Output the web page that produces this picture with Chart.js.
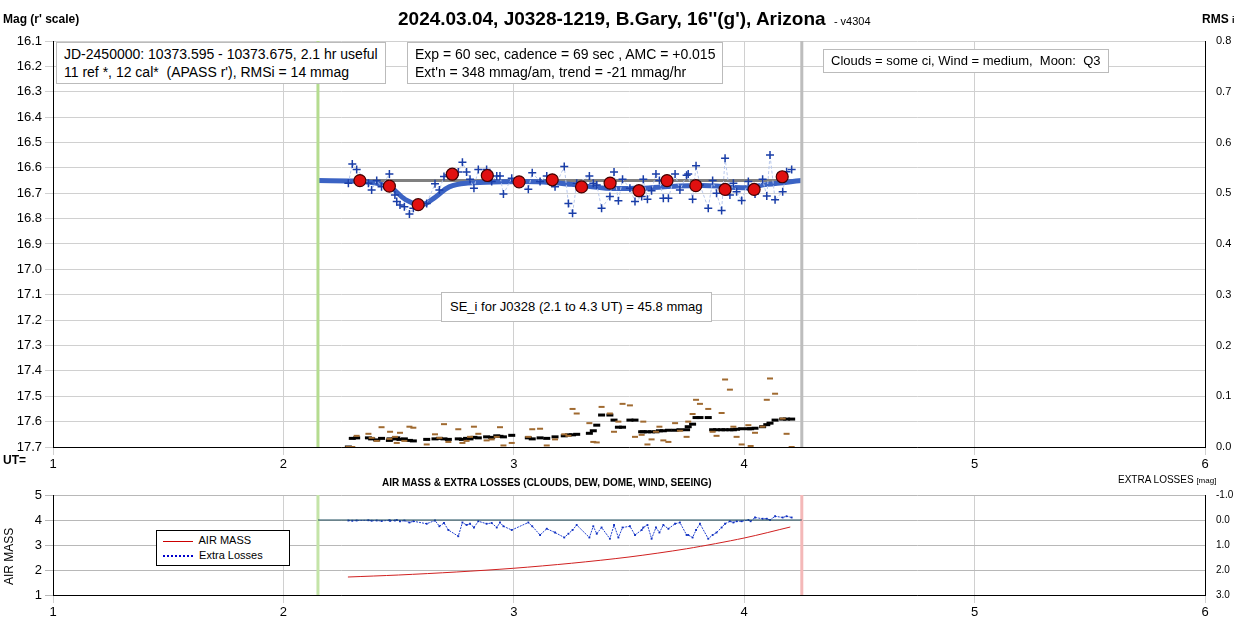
<!DOCTYPE html>
<html><head><meta charset="utf-8">
<script src="https://cdn.jsdelivr.net/npm/chart.js@4"></script>
<style>
body{margin:0;width:1246px;height:619px;background:#fff;font-family:"Liberation Sans",Arial,sans-serif;position:relative;overflow:hidden}
canvas{position:absolute;left:0}
.t{position:absolute;white-space:nowrap;color:#000}
.box{position:absolute;border:1px solid #bbb;background:#fff;font-size:14px;padding:2px 7px;line-height:18px}
</style></head><body>
<canvas id="top" style="top:0" width="1246" height="470"></canvas>
<canvas id="bot" style="top:470px" width="1246" height="149"></canvas>
<div class="t" style="left:3px;top:12px;font-size:12px;font-weight:bold">Mag (r' scale)</div>
<div class="t" style="left:398px;top:8px;font-size:19px;font-weight:bold">2024.03.04, J0328-1219, B.Gary, 16''(g'), Arizona <span style="font-size:11px;font-weight:normal">&nbsp;- v4304</span></div>
<div class="t" style="left:1202px;top:12px;font-size:12px;font-weight:bold">RMS <span style="font-size:9px">i</span></div>
<div class="t" style="left:3px;top:453px;font-size:12px;font-weight:bold">UT=</div>
<div class="box" style="left:56px;top:42px">JD-2450000: 10373.595 - 10373.675, 2.1 hr useful<br>11 ref *, 12 cal*&nbsp; (APASS r'), RMSi = 14 mmag</div>
<div class="box" style="left:407px;top:42px">Exp = 60 sec, cadence = 69 sec , AMC = +0.015<br>Ext'n = 348 mmag/am, trend = -21 mmag/hr</div>
<div class="box" style="left:823px;top:49px;font-size:13px">Clouds = some ci, Wind = medium,&nbsp; Moon:&nbsp; Q3</div>
<div class="box" style="left:441px;top:292px;padding:5px 8px;font-size:13px">SE_i for J0328 (2.1 to 4.3 UT) = 45.8 mmag</div>
<div class="t" style="left:382px;top:477px;font-size:10px;font-weight:bold">AIR MASS &amp; EXTRA LOSSES (CLOUDS, DEW, DOME, WIND, SEEING)</div>
<div class="t" style="left:1118px;top:474px;font-size:10px">EXTRA LOSSES <span style="font-size:8px">[mag]</span></div>
<div class="t" style="left:2px;top:585px;font-size:12px;transform:rotate(-90deg);transform-origin:0 0">AIR MASS</div>
<div class="box" style="left:156px;top:530px;width:120px;font-size:11px;line-height:15px;padding:2px 6px;border-color:#000">
<span style="display:inline-block;width:30px;border-top:1px solid #c00;vertical-align:middle"></span>&nbsp; AIR MASS<br>
<span style="display:inline-block;width:30px;border-top:2px dotted #00c;vertical-align:middle"></span>&nbsp; Extra Losses</div>
<script>
const utStart = 2.15, utEnd = 4.25;
const magMin = 16.1, magMax = 17.7;
const xTicks = [1, 2, 3, 4, 5, 6];

const obsUT = [2.282,2.299,2.318,2.369,2.383,2.405,2.426,2.460,2.463,2.484,2.492,2.506,2.525,2.547,2.564,2.622,2.658,2.677,2.697,2.716,2.759,2.777,2.795,2.810,2.827,2.846,2.882,2.904,2.926,2.940,2.955,2.991,3.063,3.080,3.114,3.143,3.179,3.219,3.237,3.255,3.273,3.328,3.345,3.360,3.381,3.417,3.435,3.454,3.472,3.504,3.526,3.555,3.562,3.580,3.598,3.617,3.632,3.649,3.671,3.700,3.721,3.750,3.757,3.776,3.791,3.808,3.844,3.863,3.880,3.902,3.917,3.938,3.953,3.967,3.989,4.018,4.028,4.047,4.080,4.098,4.112,4.134,4.167,4.184,4.206];
const obsMag = [16.661,16.585,16.606,16.661,16.687,16.650,16.674,16.624,16.674,16.707,16.733,16.746,16.753,16.782,16.759,16.740,16.663,16.687,16.634,16.628,16.616,16.578,16.616,16.645,16.680,16.606,16.606,16.654,16.632,16.632,16.703,16.641,16.684,16.619,16.654,16.632,16.674,16.595,16.740,16.779,16.661,16.632,16.661,16.667,16.759,16.713,16.616,16.730,16.645,16.680,16.733,16.713,16.645,16.724,16.690,16.624,16.650,16.720,16.720,16.624,16.687,16.629,16.624,16.724,16.592,16.667,16.759,16.650,16.700,16.768,16.562,16.707,16.661,16.694,16.729,16.654,16.687,16.703,16.645,16.711,16.549,16.726,16.694,16.615,16.606];
const rmsBlack = [0.0,0.017,0.018,0.018,0.016,0.014,0.017,0.013,0.016,0.016,0.018,0.015,0.016,0.013,0.012,0.015,0.016,0.017,0.016,0.015,0.016,0.015,0.017,0.016,0.019,0.018,0.020,0.019,0.022,0.021,0.020,0.023,0.018,0.016,0.018,0.017,0.020,0.022,0.024,0.024,0.025,0.027,0.032,0.043,0.063,0.063,0.053,0.039,0.039,0.053,0.053,0.030,0.030,0.030,0.030,0.030,0.032,0.032,0.033,0.033,0.034,0.034,0.040,0.045,0.058,0.058,0.058,0.034,0.034,0.034,0.034,0.034,0.034,0.035,0.036,0.036,0.036,0.037,0.040,0.044,0.047,0.053,0.055,0.055,0.055];
const rmsBrown = [0.0,0.0,0.022,0.026,0.018,0.012,0.039,0.016,0.030,0.020,0.008,0.028,0.012,0.040,0.038,0.005,0.025,0.018,0.045,0.010,0.035,0.008,0.012,0.020,0.040,0.026,0.013,0.015,0.020,0.039,0.003,0.008,0.020,0.035,0.036,0.003,0.015,0.025,0.022,0.075,0.066,0.047,0.010,0.009,0.079,0.066,0.030,0.050,0.085,0.082,0.020,0.024,0.050,0.005,0.015,0.030,0.040,0.013,0.010,0.047,0.032,0.020,0.050,0.065,0.093,0.085,0.075,0.030,0.022,0.067,0.133,0.113,0.040,0.020,0.005,0.043,0.002,0.028,0.040,0.093,0.135,0.105,0.056,0.026,0.0];
const binUT = [2.332,2.460,2.585,2.733,2.885,3.023,3.167,3.294,3.418,3.543,3.665,3.790,3.917,4.043,4.165];
const binMag = [16.650,16.672,16.745,16.625,16.630,16.655,16.647,16.675,16.660,16.690,16.650,16.670,16.685,16.685,16.635];
const fitUT = [2.15,2.30,2.40,2.47,2.53,2.60,2.66,2.72,2.80,2.95,3.10,3.25,3.40,3.55,3.70,3.85,4.00,4.10,4.25];
const fitMag = [16.650,16.652,16.660,16.680,16.725,16.745,16.715,16.675,16.660,16.655,16.655,16.665,16.680,16.680,16.672,16.670,16.678,16.665,16.650];
const lossUT = obsUT;
const lossVal = [0.02,0.03,0.02,0.01,0.03,0.02,0.04,0.01,0.03,0.02,0.0,0.05,0.02,0.1,0.05,0.15,0.02,0.25,0.12,0.4,0.65,0.1,0.2,0.15,0.3,0.05,0.15,0.12,0.3,0.1,0.25,0.4,0.1,0.25,0.6,0.35,0.5,0.7,0.55,0.4,0.2,0.7,0.25,0.55,0.3,0.75,0.2,0.7,0.3,0.25,0.6,0.4,0.3,0.2,0.75,0.3,0.5,0.2,0.35,0.15,0.1,0.6,0.6,0.7,0.4,0.15,0.75,0.6,0.5,0.3,0.15,0.05,0.1,0.05,0.05,0.0,0.05,-0.1,-0.05,-0.05,0.0,-0.15,-0.1,-0.15,-0.1];
const amUT = [2.28,2.50,2.75,3.00,3.25,3.50,3.75,4.00,4.20];
const amVal = [1.72,1.80,1.92,2.07,2.27,2.52,2.85,3.28,3.72];

const pts = (xs, ys) => xs.map((x, i) => ({ x: x, y: ys[i] }));
const font = { family: "Liberation Sans, Arial", size: 13 };
const grid = { color: "#d0d0d0" };
function fixW(w) { return function (s) { s.width = w; }; }
function fixH(h) { return function (s) { s.height = h; }; }

new Chart(document.getElementById("top"), {
  type: "scatter",
  data: {
    datasets: [
      { data: pts(fitUT, fitMag), showLine: true, borderColor: "#3b63c4", borderWidth: 5, pointRadius: 0, tension: 0.4, order: 3 },
      { data: [{ x: utStart, y: 16.65 }, { x: utEnd, y: 16.65 }], showLine: true, borderColor: "#808080", borderWidth: 3, pointRadius: 0, order: 4 },
      { data: pts(obsUT, obsMag), showLine: true, borderColor: "#b8c8ec", borderWidth: 1, borderDash: [3, 2], pointStyle: "cross", pointRadius: 4, pointBorderColor: "#1a3ea8", pointBorderWidth: 1.5, order: 2 },
      { data: pts(binUT, binMag), pointRadius: 6, pointBackgroundColor: "#e01010", pointBorderColor: "#400", pointBorderWidth: 1.2, order: 1 },
      { data: pts(obsUT, rmsBrown), yAxisID: "y2", pointStyle: "line", pointRadius: 3, pointBorderColor: "#a06a30", pointBorderWidth: 2 },
      { data: pts(obsUT, rmsBlack), yAxisID: "y2", pointStyle: "line", pointRadius: 3.5, pointBorderColor: "#000", pointBorderWidth: 3 },
      { data: [{ x: utStart, y: magMin }, { x: utStart, y: magMax }], showLine: true, borderColor: "#b5dc90", borderWidth: 3, pointRadius: 0 },
      { data: [{ x: utEnd, y: magMin }, { x: utEnd, y: magMax }], showLine: true, borderColor: "#bdbdbd", borderWidth: 3, pointRadius: 0 }
    ]
  },
  options: {
    animation: false, responsive: false,
    layout: { padding: { top: 41, left: 0, right: 0, bottom: 0 } },
    plugins: { legend: { display: false }, tooltip: { enabled: false } },
    scales: {
      x: { type: "linear", min: 1, max: 6, afterFit: fixH(23), grid: grid, border: { color: "#000" },
           afterBuildTicks: s => { s.ticks = xTicks.map(v => ({ value: v })); },
           ticks: { font: font, color: "#000", padding: 2 } },
      y: { min: magMin, max: magMax, reverse: true, afterFit: fixW(53), grid: grid, border: { color: "#000" },
           ticks: { stepSize: 0.1, font: font, color: "#000", callback: v => v.toFixed(1) } },
      y2: { position: "right", min: 0, max: 0.8, afterFit: fixW(41), grid: { display: false }, border: { color: "#000" },
            ticks: { stepSize: 0.1, font: { family: "Liberation Sans, Arial", size: 11 }, color: "#000", callback: v => v.toFixed(1) } }
    }
  }
});

new Chart(document.getElementById("bot"), {
  type: "scatter",
  data: {
    datasets: [
      { data: pts(amUT, amVal), showLine: true, borderColor: "#d02020", borderWidth: 1, pointRadius: 0, tension: 0.3 },
      { data: [{ x: utStart, y: 0 }, { x: utEnd, y: 0 }], yAxisID: "y2", showLine: true, borderColor: "#1f4e5f", borderWidth: 1.2, pointRadius: 0 },
      { data: pts(lossUT, lossVal), yAxisID: "y2", showLine: true, borderColor: "#2040d0", borderWidth: 1, borderDash: [2, 1], pointStyle: "rect", pointRadius: 1.3, pointBackgroundColor: "#1030c0", pointBorderWidth: 0 },
      { data: [{ x: utStart, y: 1 }, { x: utStart, y: 5 }], showLine: true, borderColor: "#c4e4a8", borderWidth: 3, pointRadius: 0 },
      { data: [{ x: utEnd, y: 1 }, { x: utEnd, y: 5 }], showLine: true, borderColor: "#f4b8b8", borderWidth: 3, pointRadius: 0 }
    ]
  },
  options: {
    animation: false, responsive: false,
    layout: { padding: { top: 25, left: 0, right: 0, bottom: 0 } },
    plugins: { legend: { display: false }, tooltip: { enabled: false } },
    scales: {
      x: { type: "linear", min: 1, max: 6, afterFit: fixH(24), grid: grid, border: { color: "#000" },
           afterBuildTicks: s => { s.ticks = xTicks.map(v => ({ value: v })); },
           ticks: { font: font, color: "#000", padding: 2 } },
      y: { min: 1, max: 5, afterFit: fixW(53), grid: { color: "#b8b8b8" }, border: { color: "#000" },
           ticks: { stepSize: 1, font: font, color: "#000" } },
      y2: { position: "right", min: -1, max: 3, reverse: true, afterFit: fixW(41), grid: { display: false }, border: { color: "#000" },
            ticks: { stepSize: 1, font: { family: "Liberation Sans, Arial", size: 10 }, color: "#000", callback: v => v.toFixed(1) } }
    }
  }
});
</script>
</body></html>
